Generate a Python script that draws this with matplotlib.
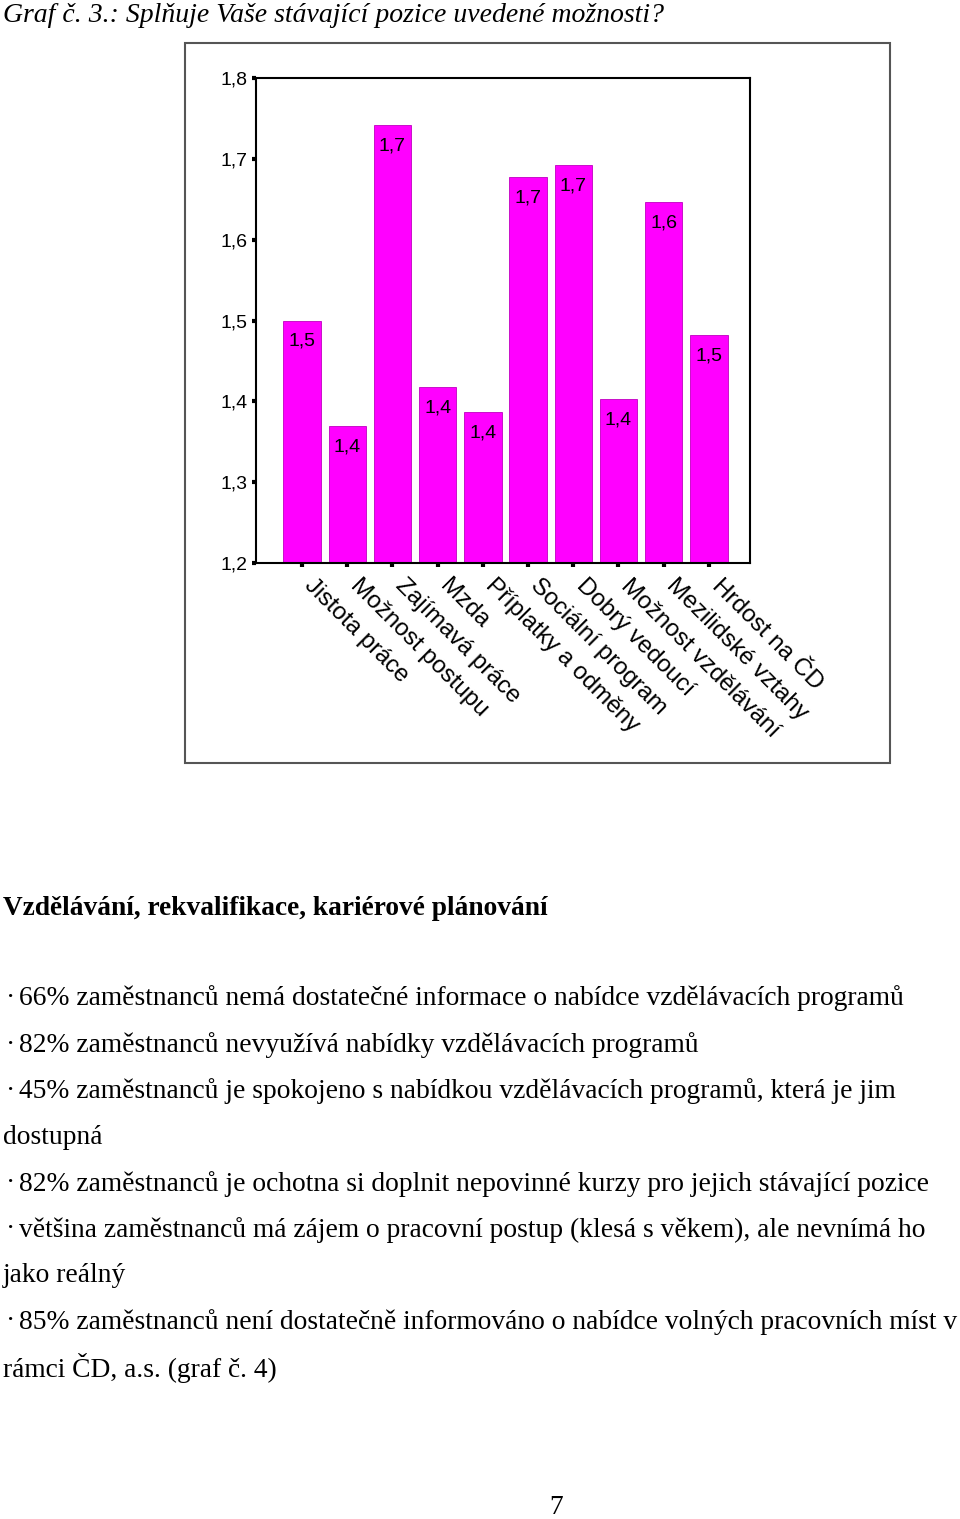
import matplotlib
matplotlib.use("Agg")
import matplotlib.pyplot as plt
from matplotlib.patches import Rectangle
from matplotlib.ticker import FuncFormatter
from matplotlib.transforms import ScaledTranslation

# Data
categories = ["Jistota práce", "Možnost postupu", "Zajímavá práce", "Mzda",
              "Příplatky a odměny", "Sociální program", "Dobrý vedoucí",
              "Možnost vzdělávání", "Mezilidské vztahy", "Hrdost na ČD"]
values = [1.50, 1.37, 1.742, 1.418, 1.387, 1.677, 1.692, 1.403, 1.646, 1.482]
y_ticks = [1.2, 1.3, 1.4, 1.5, 1.6, 1.7, 1.8]

title = "Graf č. 3.: Splňuje Vaše stávající pozice uvedené možnosti?"
heading = "Vzdělávání, rekvalifikace, kariérové plánování"
lines = [
    ("·", "66% zaměstnanců nemá dostatečné informace o nabídce vzdělávacích programů"),
    ("·", "82% zaměstnanců nevyužívá nabídky vzdělávacích programů"),
    ("·", "45% zaměstnanců je spokojeno s nabídkou vzdělávacích programů, která je jim"),
    ("", "dostupná"),
    ("·", "82% zaměstnanců je ochotna si doplnit nepovinné kurzy pro jejich stávající pozice"),
    ("·", "většina zaměstnanců má zájem o pracovní postup (klesá s věkem), ale nevnímá ho"),
    ("", "jako reálný"),
    ("·", "85% zaměstnanců není dostatečně informováno o nabídce volných pracovních míst v"),
    ("", "rámci ČD, a.s. (graf č. 4)"),
]
line_y = [998, 1045, 1091, 1138, 1184, 1230, 1276, 1322, 1368]

W, H = 960, 1519
fig = plt.figure(figsize=(W / 100, H / 100), dpi=100)


def fx(x):
    return x / W


def fy(y):
    return 1 - y / H


# outer frame of the chart object
fig.patches.append(Rectangle((fx(185), fy(763)), fx(890) - fx(185), fy(43) - fy(763),
                             transform=fig.transFigure, fill=False,
                             edgecolor="#555555", linewidth=1.5))

ax = fig.add_axes([fx(256), fy(563), fx(750) - fx(256), fy(78) - fy(563)])
x = list(range(len(categories)))
ax.bar(x, values, width=0.83, bottom=0, color="#ff00ff", edgecolor="#c000c0", linewidth=0.6)
ax.set_ylim(1.2, 1.8)
ax.set_xlim(-1.02, 9.91)
ax.set_yticks(y_ticks)
ax.yaxis.set_major_formatter(FuncFormatter(lambda v, p: f"{v:.1f}".replace(".", ",")))
ax.tick_params(axis="y", direction="out", length=3, width=3, pad=3,
               labelsize=14, labelfontfamily="Liberation Sans")
ax.set_xticks(x)
ax.set_xticklabels(categories, rotation=-45, ha="left", va="center",
                   rotation_mode="anchor", fontsize=17.5, fontfamily="Liberation Sans")
ax.tick_params(axis="x", direction="out", length=3, width=3, pad=11)
shift = ScaledTranslation(6 / 100, 0, fig.dpi_scale_trans)
for lbl in ax.get_xticklabels():
    lbl.set_transform(lbl.get_transform() + shift)
for s in ax.spines.values():
    s.set_linewidth(1.5)

for i, v in enumerate(values):
    ax.annotate(f"{v:.1f}".replace(".", ","), (i, v), xytext=(0, -9),
                textcoords="offset points", ha="center", va="top",
                fontsize=14, fontfamily="Liberation Sans")

# page text
fig.text(fx(3), fy(16), title, fontsize=20, fontstyle="italic",
         fontfamily="Liberation Serif", va="center", ha="left")
fig.text(fx(3), fy(909), heading, fontsize=19.7, fontweight="bold",
         fontfamily="Liberation Serif", va="center", ha="left")
for (b, t), y in zip(lines, line_y):
    if b:
        fig.text(fx(6), fy(y), b, fontsize=19.8, fontfamily="Liberation Serif",
                 va="center", ha="left")
        fig.text(fx(19), fy(y), t, fontsize=19.8, fontfamily="Liberation Serif",
                 va="center", ha="left")
    else:
        fig.text(fx(3), fy(y), t, fontsize=19.8, fontfamily="Liberation Serif",
                 va="center", ha="left")
fig.text(fx(556), fy(1508), "7", fontsize=19.8, fontfamily="Liberation Serif",
         va="center", ha="center")

fig.savefig("out.png", dpi=100)
